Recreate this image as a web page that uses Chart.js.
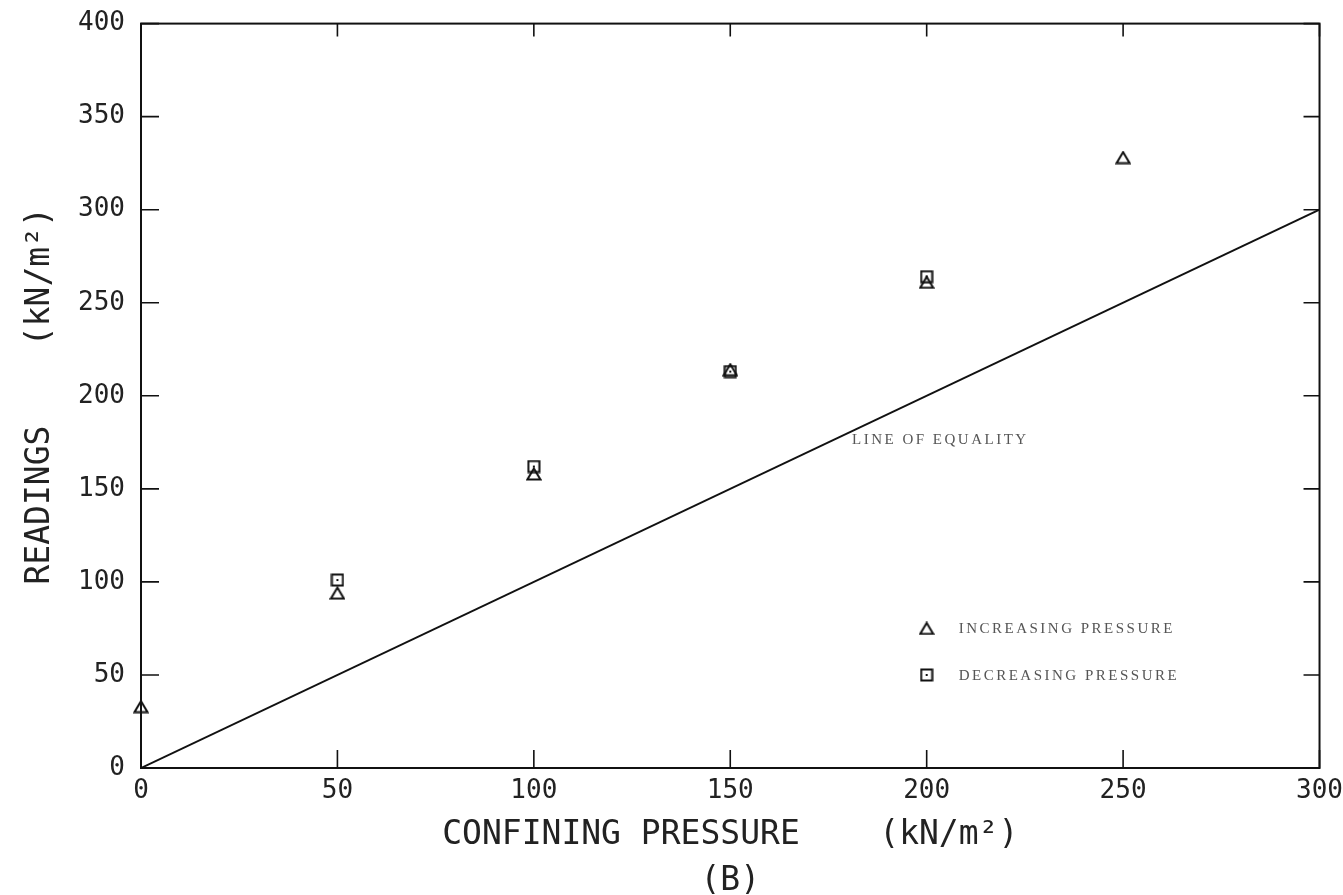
<!DOCTYPE html>
<html>
<head>
<meta charset="utf-8">
<script src="https://cdn.jsdelivr.net/npm/chart.js@4/dist/chart.umd.min.js"></script>
<style>
  html, body { margin: 0; padding: 0; background: #fff; }
</style>
</head>
<body>
<canvas id="chart" width="1343" height="895"></canvas>
<script>
// values
const pressure = [0, 50, 100, 150, 200, 250];
const increasing = [33, 94, 158, 214, 261, 328];
const decPressure = [50, 100, 150, 200];
const decreasing = [101, 162, 213, 264];
const equalityX = [0, 300];
const equalityY = [0, 300];
const xTicks = [0, 50, 100, 150, 200, 250, 300];
const yTicks = [0, 50, 100, 150, 200, 250, 300, 350, 400];
const legendLabels = ['INCREASING PRESSURE', 'DECREASING PRESSURE'];
const legendAt = [[200, 75], [200, 50]];
const lineLabel = 'LINE OF EQUALITY';
const lineLabelAt = [181, 176];

const mono = "'DejaVu Sans Mono', 'Liberation Mono', monospace";

// marker images
function makeTriangle() {
    const c = document.createElement('canvas');
    c.width = 16; c.height = 14;
    const g = c.getContext('2d');
    g.strokeStyle = '#111'; g.lineWidth = 2;
    g.beginPath();
    g.moveTo(8, 1.5); g.lineTo(14.5, 12.5); g.lineTo(1.5, 12.5); g.closePath();
    g.stroke();
    return c;
}
function makeSquare() {
    const c = document.createElement('canvas');
    c.width = 14; c.height = 14;
    const g = c.getContext('2d');
    g.strokeStyle = '#111'; g.lineWidth = 2;
    g.strokeRect(1.5, 1.5, 11, 11);
    g.fillStyle = '#111';
    g.fillRect(6, 6, 2, 2);
    return c;
}
const triImg = makeTriangle(), sqImg = makeSquare();

const framePlugin = {
    id: 'frame',
    afterDraw(chart) {
        const {ctx, chartArea: a, scales: {x, y}} = chart;
        ctx.save();
        ctx.strokeStyle = '#111';
        ctx.lineWidth = 2;
        ctx.strokeRect(a.left, a.top, a.right - a.left, a.bottom - a.top);
        ctx.lineWidth = 1.6;
        ctx.beginPath();
        xTicks.forEach(v => {
            const px = x.getPixelForValue(v);
            ctx.moveTo(px, a.bottom); ctx.lineTo(px, a.bottom - 18);
            ctx.moveTo(px, a.top); ctx.lineTo(px, a.top + 13);
        });
        yTicks.forEach(v => {
            const py = y.getPixelForValue(v);
            ctx.moveTo(a.left, py); ctx.lineTo(a.left + 18, py);
            ctx.moveTo(a.right, py); ctx.lineTo(a.right - 16, py);
        });
        ctx.stroke();

        // text labels inside the plot
        ctx.fillStyle = '#555';
        ctx.font = "15px 'Liberation Serif', 'DejaVu Serif', serif";
        ctx.textBaseline = 'middle';
        ctx.textAlign = 'left';
        if ('letterSpacing' in ctx) ctx.letterSpacing = '2.5px';
        ctx.fillText(lineLabel, x.getPixelForValue(lineLabelAt[0]), y.getPixelForValue(lineLabelAt[1]));

        legendLabels.forEach((t, i) => {
            const px = x.getPixelForValue(legendAt[i][0]);
            const py = y.getPixelForValue(legendAt[i][1]);
            const img = i === 0 ? triImg : sqImg;
            ctx.drawImage(img, px - img.width / 2, py - img.height / 2);
            ctx.fillText(t, px + 32, py + 1);
        });
        ctx.restore();
    }
};

new Chart(document.getElementById('chart'), {
    type: 'scatter',
    data: {
        datasets: [
            {
                label: 'LINE OF EQUALITY',
                type: 'line',
                data: equalityX.map((v, i) => ({x: v, y: equalityY[i]})),
                borderColor: '#111',
                borderWidth: 2,
                pointRadius: 0,
                fill: false
            },
            {
                label: legendLabels[0],
                data: pressure.map((v, i) => ({x: v, y: increasing[i]})),
                pointStyle: triImg,
                pointRadius: 7,
                clip: false
            },
            {
                label: legendLabels[1],
                data: decPressure.map((v, i) => ({x: v, y: decreasing[i]})),
                pointStyle: sqImg,
                pointRadius: 7,
                clip: false
            }
        ]
    },
    options: {
        responsive: false,
        animation: false,
        devicePixelRatio: 1,
        layout: {padding: {left: 0, top: 20, right: 19, bottom: 0}},
        plugins: {legend: {display: false}, tooltip: {enabled: false}},
        scales: {
            x: {
                type: 'linear',
                min: 0, max: 300,
                grid: {display: false},
                border: {display: false},
                ticks: {stepSize: 50, color: '#222', padding: 0, font: {family: mono, size: 26}},
                title: {
                    display: true,
                    text: ['CONFINING PRESSURE    (kN/m\u00b2)', '(B)'],
                    color: '#222',
                    font: {family: mono, size: 33, lineHeight: 1.4},
                    padding: {top: 0, bottom: -10}
                },
                afterFit(scale) { scale.height = 127; }
            },
            y: {
                type: 'linear',
                min: 0, max: 400,
                grid: {display: false},
                border: {display: false},
                ticks: {stepSize: 50, color: '#222', padding: 8, font: {family: mono, size: 26}},
                title: {
                    display: true,
                    text: 'READINGS    (kN/m\u00b2)',
                    color: '#222',
                    font: {family: mono, size: 33, lineHeight: 1.2},
                    padding: {top: 21, bottom: 0}
                },
                afterFit(scale) { scale.width = 141; }
            }
        }
    },
    plugins: [framePlugin]
});
</script>
</body>
</html>
